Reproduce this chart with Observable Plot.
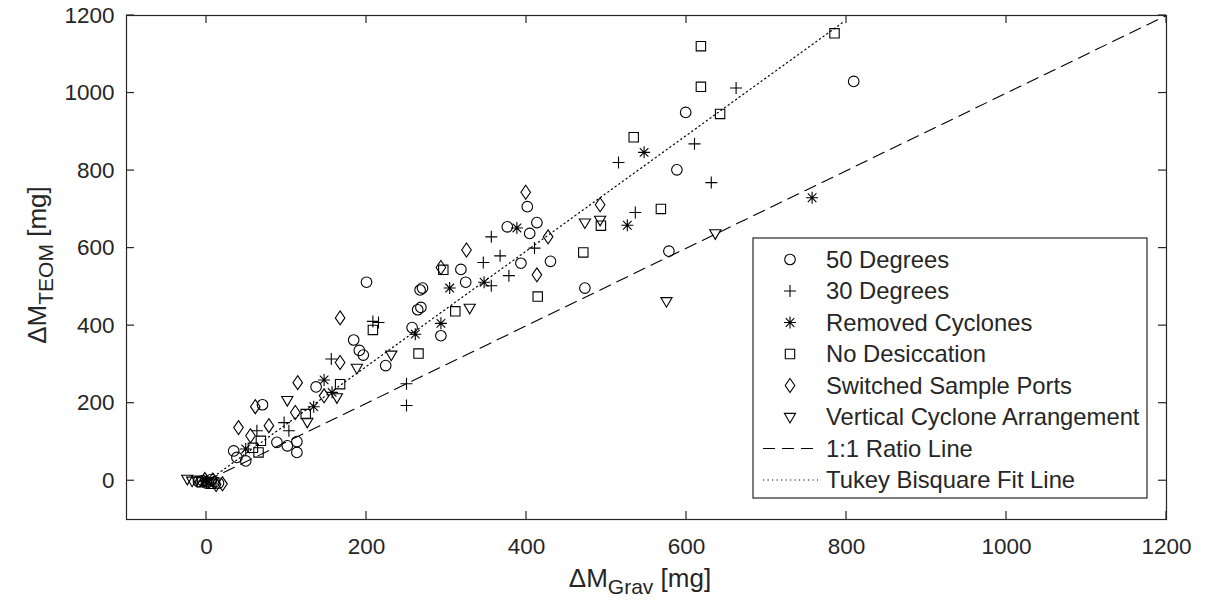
<!DOCTYPE html>
<html><head><meta charset="utf-8">
<script src="https://cdn.jsdelivr.net/npm/d3@7"></script>
<script src="https://cdn.jsdelivr.net/npm/@observablehq/plot@0.6"></script>
<style>
html,body{margin:0;padding:0;background:#fff;}
#chart{width:1210px;height:611px;}
</style></head><body><div id="chart"></div>
<script>
// ---- data (ΔM_Grav, ΔM_TEOM) in mg ----
const deg50 = [[809,1030],[599,950],[588,802],[578,592],[473,497],[401,707],[376,655],[413,666],[404,638],
  [393,561],[430,566],[318,545],[324,512],[270,497],[268,447],[200,512],[267,492],[264,441],[257,395],[293,374],
  [184,363],[191,336],[196,324],[224,297],[137,242],[70,196],[88,99],[101,90],[113,101],[113,73],[34,77],[38,60],[49,51],
  [-5,0],[0,-6],[6,3],[10,-3],[-10,-2],[15,-6]];
const deg30 = [[662,1013],[610,869],[515,821],[631,769],[536,692],[356,629],[410,600],[367,580],[346,563],[378,529],
  [356,503],[215,408],[208,411],[156,314],[63,129],[97,150],[103,129],[250,250],[250,194],[0,2]];
const removedCyclones = [[757,730],[547,847],[526,659],[388,652],[347,512],[304,497],[261,378],[293,406],[147,260],
  [157,228],[134,191],[49,82],[-3,-1],[3,-4]];
const noDesiccation = [[785,1154],[618,1121],[618,1016],[642,946],[534,886],[568,701],[493,658],[471,589],[414,475],
  [296,544],[311,437],[208,389],[265,328],[167,249],[124,172],[68,103],[65,73],[58,85],[-6,-4],[6,-8]];
const switchedPorts = [[492,712],[399,744],[427,629],[325,595],[293,550],[413,531],[167,420],[167,305],[114,253],
  [147,219],[61,191],[40,137],[78,142],[55,116],[111,176],[20,-8],[12,-10],[-2,3],[8,2]];
const verticalCyclone = [[636,638],[575,463],[473,666],[492,673],[329,446],[231,325],[188,291],[163,215],[101,208],
  [126,152],[-24,5],[-18,0],[-12,3],[2,-2]];
const ratioLine = [[0,0],[1200,1200]];
const tukeyFit = [[0,-3],[796,1183]];
const xTicks = [0,200,400,600,800,1000,1200];
const yTicks = [0,200,400,600,800,1000,1200];
const seriesNames = ["50 Degrees","30 Degrees","Removed Cyclones","No Desiccation","Switched Sample Ports","Vertical Cyclone Arrangement"];
const lineNames = ["1:1 Ratio Line","Tukey Bisquare Fit Line"];

// ---- MATLAB-like marker shapes ----
const sym = {
  circle:{draw(c){c.moveTo(5.3,0);c.arc(0,0,5.3,0,2*Math.PI);}},
  plus:{draw(c){c.moveTo(-6,0);c.lineTo(6,0);c.moveTo(0,-6);c.lineTo(0,6);}},
  star:{draw(c){const a=6,b=4.3;c.moveTo(-a,0);c.lineTo(a,0);c.moveTo(0,-a);c.lineTo(0,a);
    c.moveTo(-b,-b);c.lineTo(b,b);c.moveTo(-b,b);c.lineTo(b,-b);}},
  square:{draw(c){c.rect(-4.7,-4.7,9.4,9.4);}},
  diamond:{draw(c){c.moveTo(0,-7);c.lineTo(4.8,0);c.lineTo(0,7);c.lineTo(-4.8,0);c.closePath();}},
  tri:{draw(c){c.moveTo(-5.6,-3.6);c.lineTo(5.6,-3.6);c.lineTo(0,6);c.closePath();}}
};
const seriesData = [deg50,deg30,removedCyclones,noDesiccation,switchedPorts,verticalCyclone];
const seriesSym = [sym.circle,sym.plus,sym.star,sym.square,sym.diamond,sym.tri];

const ink = "#262626";
const font = "'Liberation Sans', Arial, sans-serif";
const dotMarks = seriesData.map((d,i)=>Plot.dot(d,{x:p=>p[0],y:p=>p[1],symbol:seriesSym[i],r:5,fill:"none",stroke:"black",strokeWidth:1.1}));

const plot = Plot.plot({
  width:1210, height:611,
  marginLeft:126, marginRight:44, marginTop:15, marginBottom:92,
  x:{domain:[-100,1200]}, y:{domain:[-100,1200]},
  style:{fontFamily:font, fontSize:"22px", color:ink, background:"white", overflow:"visible"},
  marks:[
    Plot.line(ratioLine,{x:p=>p[0],y:p=>p[1],stroke:"black",strokeWidth:1.1,strokeDasharray:"12,7"}),
    Plot.line(tukeyFit,{x:p=>p[0],y:p=>p[1],stroke:"black",strokeWidth:1.2,strokeDasharray:"1.2,3.3"}),
    ...dotMarks,
    Plot.axisX({ticks:xTicks,tickSize:0,tickPadding:19,label:null,fontSize:22.5,tickFormat:d3.format("d")}),
    Plot.axisY({ticks:yTicks,tickSize:0,tickPadding:12,label:null,fontSize:22.5,tickFormat:d3.format("d")}),
    Plot.frame({stroke:ink,strokeWidth:1.2})
  ]
});
document.getElementById("chart").appendChild(plot);

// ---- inward ticks on all four sides (MATLAB box) ----
const X = plot.scale("x"), Y = plot.scale("y");
const x0 = X.apply(-100), x1 = X.apply(1200), y0 = Y.apply(-100), y1 = Y.apply(1200);
const svg = d3.select(plot);
const tg = svg.append("g").attr("stroke",ink).attr("stroke-width",1.2);
const TL = 8;
for (const t of xTicks){const px=X.apply(t);
  tg.append("line").attr("x1",px).attr("x2",px).attr("y1",y0).attr("y2",y0-TL);
  tg.append("line").attr("x1",px).attr("x2",px).attr("y1",y1).attr("y2",y1+TL);}
for (const t of yTicks){const py=Y.apply(t);
  tg.append("line").attr("y1",py).attr("y2",py).attr("x1",x0).attr("x2",x0+TL);
  tg.append("line").attr("y1",py).attr("y2",py).attr("x1",x1).attr("x2",x1-TL);}

// ---- axis labels with subscripts ----
const LF = 26, SF = 21;
const xl = svg.append("text").attr("x",(x0+x1)/2 - 6).attr("y",587).attr("text-anchor","middle")
  .attr("fill",ink).style("font-family",font).style("font-size",LF+"px");
xl.append("tspan").text("ΔM");
xl.append("tspan").attr("dy",7).style("font-size",SF+"px").text("Grav");
xl.append("tspan").attr("dy",-7).text(" [mg]");
const yl = svg.append("text").attr("transform",`translate(46,${(y0+y1)/2 - 2}) rotate(-90)`).attr("text-anchor","middle")
  .attr("fill",ink).style("font-family",font).style("font-size",LF+"px");
yl.append("tspan").text("ΔM");
yl.append("tspan").attr("dy",7).style("font-size",SF+"px").text("TEOM");
yl.append("tspan").attr("dy",-7).text(" [mg]");

// ---- legend box ----
const lg = svg.append("g").attr("text-anchor","start");
lg.append("rect").attr("x",753).attr("y",238).attr("width",394).attr("height",260)
  .attr("fill","white").attr("stroke",ink).attr("stroke-width",1.2);
const rowY = i => 259.5 + i*31.5;
const LGF = "23.8px";
seriesNames.forEach((name,i)=>{
  lg.append("path").attr("transform",`translate(790,${rowY(i)})`)
    .attr("d",d3.symbol(seriesSym[i],1)()).attr("fill","none").attr("stroke","black").attr("stroke-width",1.1);
  lg.append("text").attr("x",826).attr("y",rowY(i)).attr("dy","0.35em").attr("fill",ink).attr("text-anchor","start")
    .style("font-family",font).style("font-size",LGF).text(name);
});
const dashes = ["12,7","1.2,3.3"];
lineNames.forEach((name,j)=>{
  const i = 6+j;
  lg.append("line").attr("x1",763).attr("x2",818).attr("y1",rowY(i)).attr("y2",rowY(i))
    .attr("stroke","black").attr("stroke-width",1.1).attr("stroke-dasharray",dashes[j]);
  lg.append("text").attr("x",826).attr("y",rowY(i)).attr("dy","0.35em").attr("fill",ink).attr("text-anchor","start")
    .style("font-family",font).style("font-size",LGF).text(name);
});
</script></body></html>
